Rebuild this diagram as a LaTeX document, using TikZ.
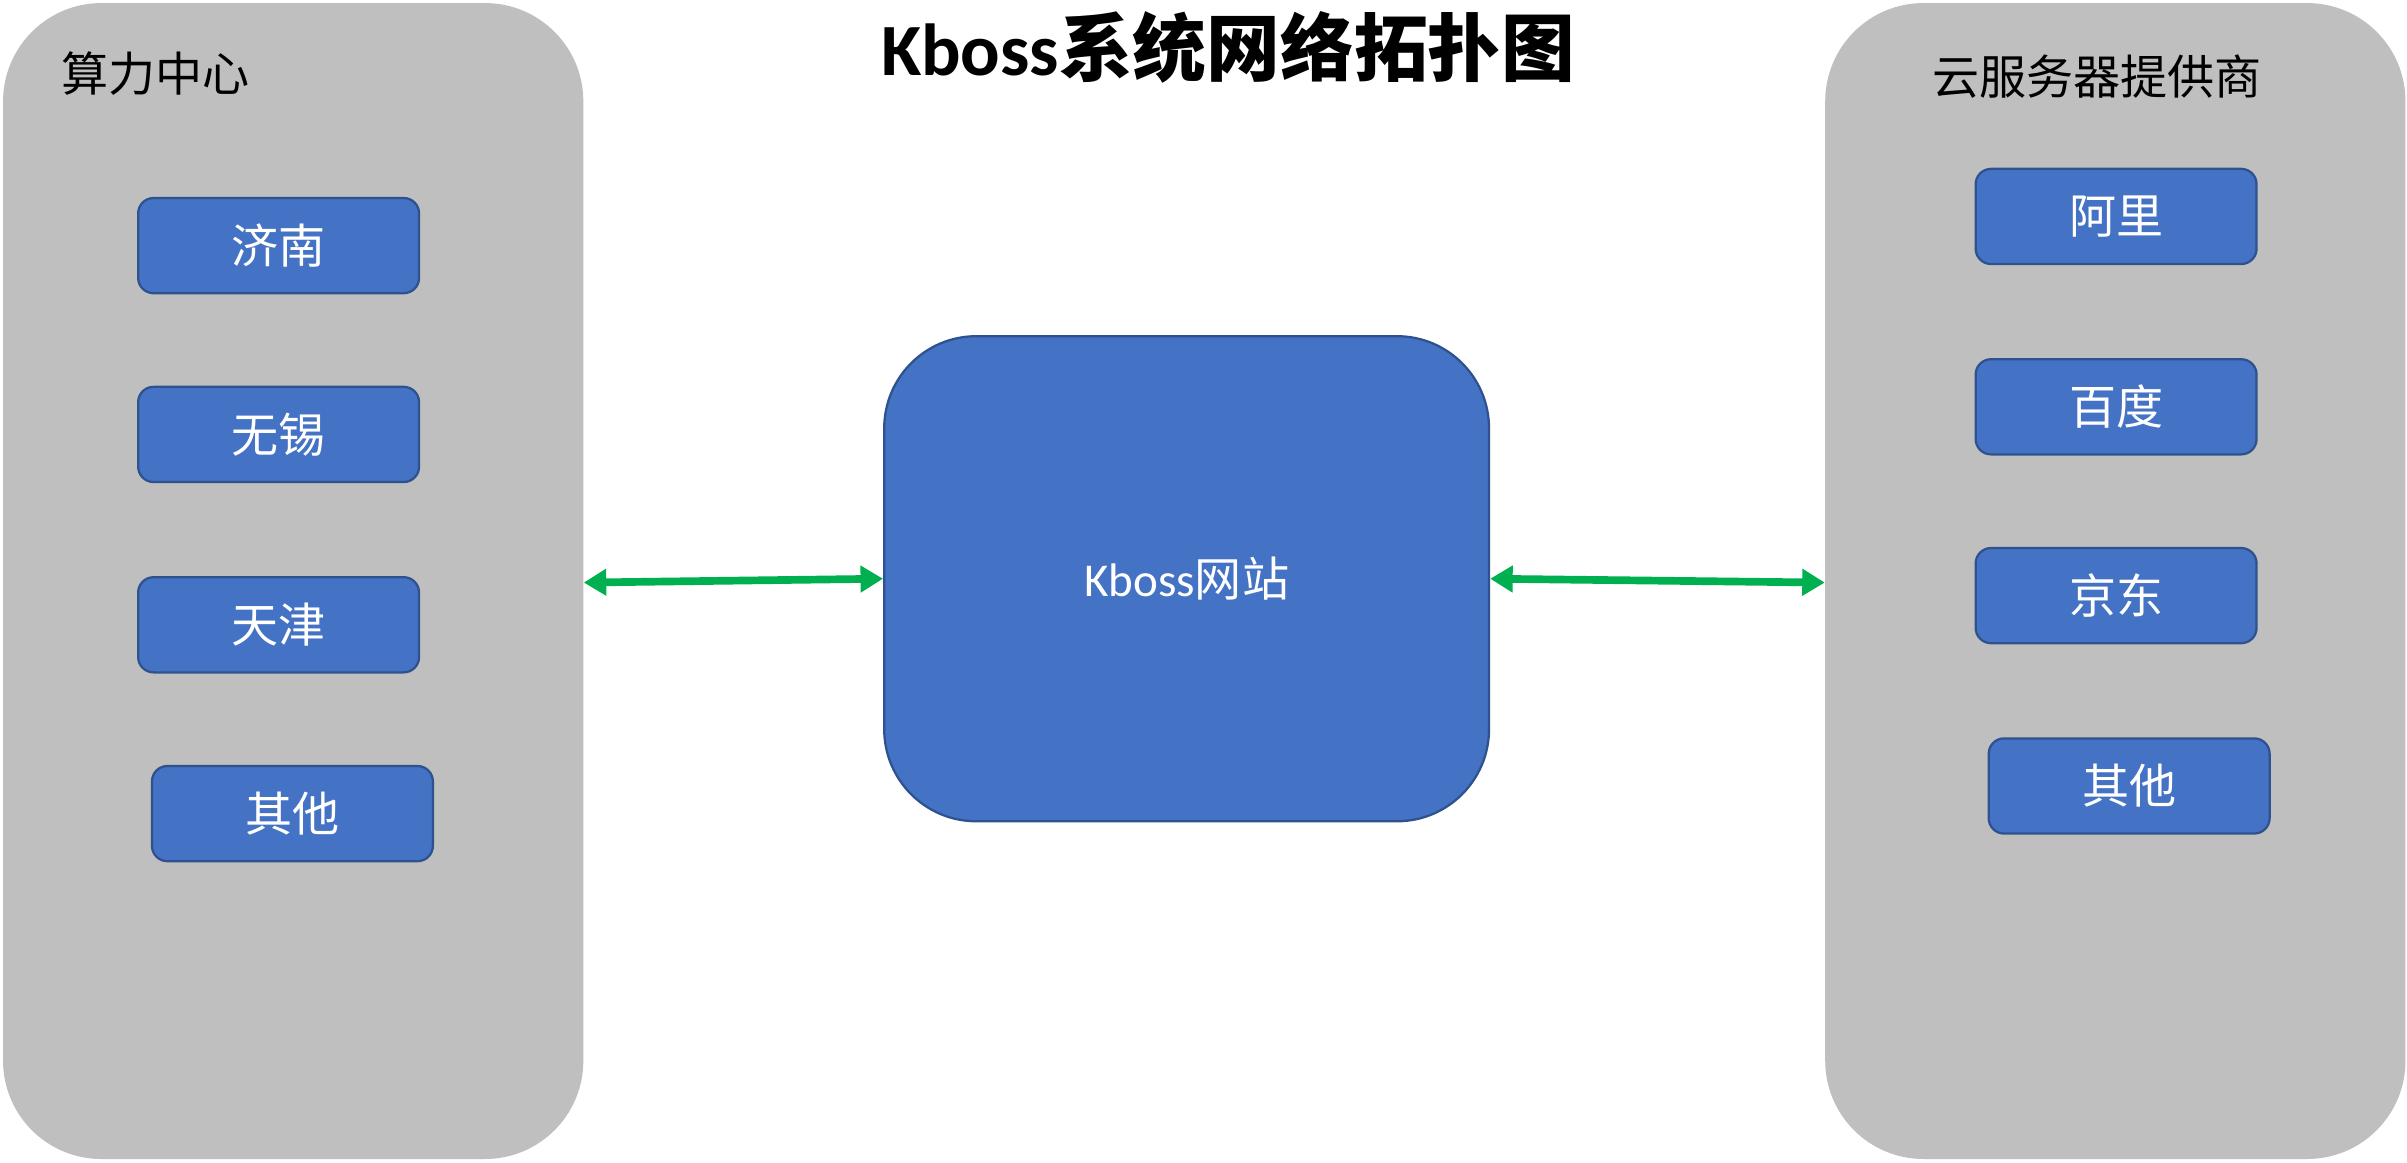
\documentclass[tikz,border=0pt]{standalone}
\usepackage{fontspec}
\setmainfont{Carlito}
\newfontfamily\cjk{Noto Sans CJK SC}
\usetikzlibrary{arrows.meta}
\definecolor{panelgray}{HTML}{BFBFBF}
\definecolor{boxblue}{HTML}{4472C4}
\definecolor{boxedge}{HTML}{2F528F}
\definecolor{arrgreen}{HTML}{00B050}
\tikzset{
  panel/.style={fill=panelgray, draw=none, rounded corners=48pt,
    minimum width=283.5pt, minimum height=564.75pt, inner sep=0pt},
  smallbox/.style={fill=boxblue, draw=boxedge, line width=1.1pt, rounded corners=7.5pt,
    minimum width=137.25pt, minimum height=46.5pt, inner sep=0pt,
    text=white, font=\cjk\fontsize{23}{27}\selectfont},
  mainbox/.style={fill=boxblue, draw=boxedge, line width=1.1pt, rounded corners=45pt,
    minimum width=295.5pt, minimum height=237pt, inner sep=0pt,
    text=white, font=\fontsize{23}{27}\selectfont},
  paneltitle/.style={text=black, inner sep=0pt, font=\cjk\fontsize{23}{27}\selectfont},
  link/.style={draw=arrgreen, line width=3.75pt,
    {Triangle[length=11pt,width=12.5pt]}-{Triangle[length=11pt,width=12.5pt]}}
}
\begin{document}
\begin{tikzpicture}[x=0.75pt,y=-0.75pt]
\useasboundingbox (0,0) rectangle (1568,757.6);
\fill[white] (0,0) rectangle (1568,757.6);

% panels
\node[panel] (lpanel) at (191,378.5) {};
\node[panel] (rpanel) at (1378,378.5) {};
\node[paneltitle] (ltitle) at (101.5,48) {算力中心};
\node[paneltitle] (rtitle) at (1366,50) {云服务器提供商};

% title
\node[inner sep=0pt, font=\fontsize{36}{42}\selectfont\bfseries] (title) at (800,31)
  {Kboss{\cjk 系统网络拓扑图}};

% left boxes
\node[smallbox] (jinan) at (181.5,160) {济南};
\node[smallbox] (wuxi) at (181.5,283) {无锡};
\node[smallbox] (tianjin) at (181.5,407) {天津};
\node[smallbox] (lother) at (190.5,530) {其他};

% right boxes
\node[smallbox] (ali) at (1378.5,141) {阿里};
\node[smallbox] (baidu) at (1378.5,265) {百度};
\node[smallbox] (jd) at (1378.5,388) {京东};
\node[smallbox] (rother) at (1387,512) {其他};

% center
\node[mainbox] (site) at (773,377) {Kboss{\cjk 网站}};

% connectors
\draw[link] ([yshift=-0.75pt]lpanel.east) -- (site.west);
\draw[link] (site.east) -- ([yshift=-0.75pt]rpanel.west);
\end{tikzpicture}
\end{document}
